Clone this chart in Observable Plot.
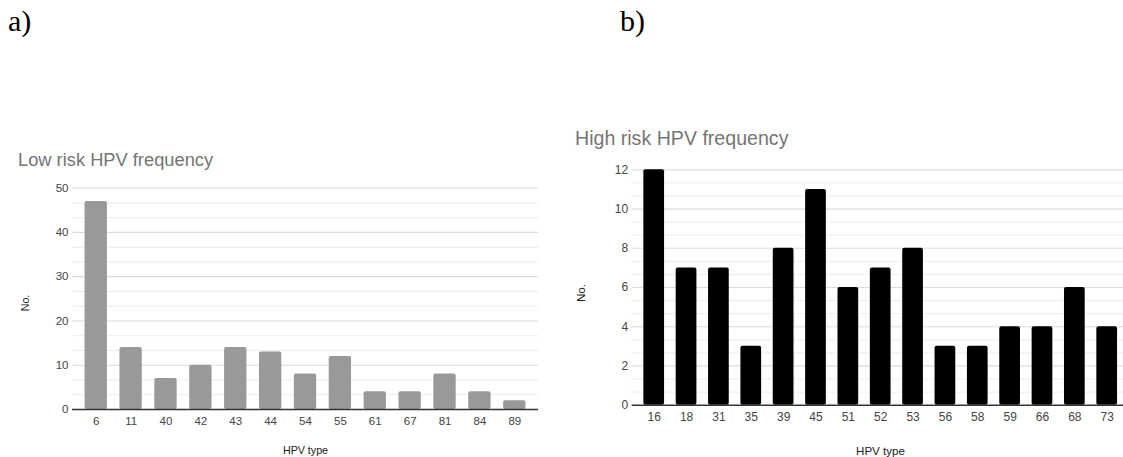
<!DOCTYPE html>
<html>
<head>
<meta charset="utf-8">
<script src="https://cdn.jsdelivr.net/npm/d3@7"></script>
<script src="https://cdn.jsdelivr.net/npm/@observablehq/plot@0.6"></script>
<style>
  html, body { margin: 0; padding: 0; background: #fff; overflow: hidden; }
  #wrap { position: relative; width: 1123px; height: 457px; background: #fff; font-family: "Liberation Sans", Arial, sans-serif; }
  .panel { position: absolute; }
  .lbl { position: absolute; white-space: nowrap; font-family: "Liberation Serif", "Times New Roman", serif; font-size: 30px; color: #000; line-height: 1; }
  .title { position: absolute; white-space: nowrap; color: #757575; line-height: 1; }
  .axt { position: absolute; white-space: nowrap; color: #222; line-height: 1; }
  svg.pl text { font-size: 11.5px; fill: #444; font-family: "Liberation Sans", Arial, sans-serif; }
  svg.pr text { font-size: 12px; fill: #444; font-family: "Liberation Sans", Arial, sans-serif; }
</style>
</head>
<body>
<div id="wrap"></div>
<script>
// ---- Data ----
const lowTypes = ["6","11","40","42","43","44","54","55","61","67","81","84","89"];
const lowCounts = [47,14,7,10,14,13,8,12,4,4,8,4,2];
const lowYTicks = [0,10,20,30,40,50];

const highTypes = ["16","18","31","35","39","45","51","52","53","56","58","59","66","68","73"];
const highCounts = [12,7,7,3,8,11,6,7,8,3,3,4,4,6,4];
const highYTicks = [0,2,4,6,8,10,12];

const wrap = document.getElementById("wrap");

function addText(cls, text, left, top, extra) {
  const d = document.createElement("div");
  d.className = cls;
  d.textContent = text;
  d.style.left = left + "px";
  d.style.top = top + "px";
  if (extra) Object.assign(d.style, extra);
  wrap.appendChild(d);
  return d;
}

function panel({types, counts, yTicks, yMax, color, left, top, width, height, mt, mb, ml, xRange, cls, tp}) {
  const data = types.map((t, i) => ({type: t, n: counts[i]}));
  const majorStep = yTicks[1] - yTicks[0];
  const minor = d3.range(0, yMax + 1e-9, majorStep / 3).filter(v => !yTicks.some(t => Math.abs(t - v) < 1e-6));
  const p = Plot.plot({
    width, height,
    className: cls,
    marginTop: mt, marginBottom: mb, marginLeft: ml, marginRight: 0,
    style: {background: "transparent", overflow: "visible"},
    x: {domain: types, padding: 0.36, round: false, range: xRange, tickSize: 0, tickPadding: tp, label: null},
    y: {domain: [0, yMax], ticks: yTicks, tickSize: 0, tickPadding: 4, label: null},
    marks: [
      Plot.ruleY(minor, {stroke: "#ececec", strokeWidth: 1}),
      Plot.ruleY(yTicks.filter(t => t > 0), {stroke: "#dcdcdc", strokeWidth: 1.2}),
      Plot.barY(data, {x: "type", y: "n", fill: color, rx: 2}),
      Plot.ruleY([0], {stroke: "#333", strokeWidth: 1.5})
    ]
  });
  p.classList.add(cls);
  p.style.position = "absolute";
  p.style.left = left + "px";
  p.style.top = top + "px";
  wrap.appendChild(p);
}

// Left panel (a)
panel({types: lowTypes, counts: lowCounts, yTicks: lowYTicks, yMax: 50, color: "#999999",
  left: 0, top: 170, width: 538, height: 287, mt: 17.7, mb: 48, ml: 72, xRange: [72, 538], cls: "pl", tp: 7});

// Right panel (b)
panel({types: highTypes, counts: highCounts, yTicks: highYTicks, yMax: 12, color: "#000000",
  left: 560, top: 150, width: 563, height: 307, mt: 19.3, mb: 52.3, ml: 71.7, xRange: [71.7, 568.7], cls: "pr", tp: 7});

// Panel letters
addText("lbl", "a)", 8, 6);
addText("lbl", "b)", 620, 6);

// Titles
addText("title", "Low risk HPV frequency", 18, 151, {fontSize: "18.3px", fontFamily: '"Liberation Sans", Arial, sans-serif'});
addText("title", "High risk HPV frequency", 575, 128.5, {fontSize: "19.6px", fontFamily: '"Liberation Sans", Arial, sans-serif'});

// Axis titles
addText("axt", "HPV type", 305.5, 445, {fontSize: "10.7px", transform: "translateX(-50%)"});
addText("axt", "HPV type", 880.5, 444.5, {fontSize: "11.6px", transform: "translateX(-50%)"});
addText("axt", "No.", 25, 303, {fontSize: "10.7px", transform: "translate(-50%,-50%) rotate(-90deg)"});
addText("axt", "No.", 581, 293, {fontSize: "11.6px", transform: "translate(-50%,-50%) rotate(-90deg)"});
</script>
</body>
</html>
